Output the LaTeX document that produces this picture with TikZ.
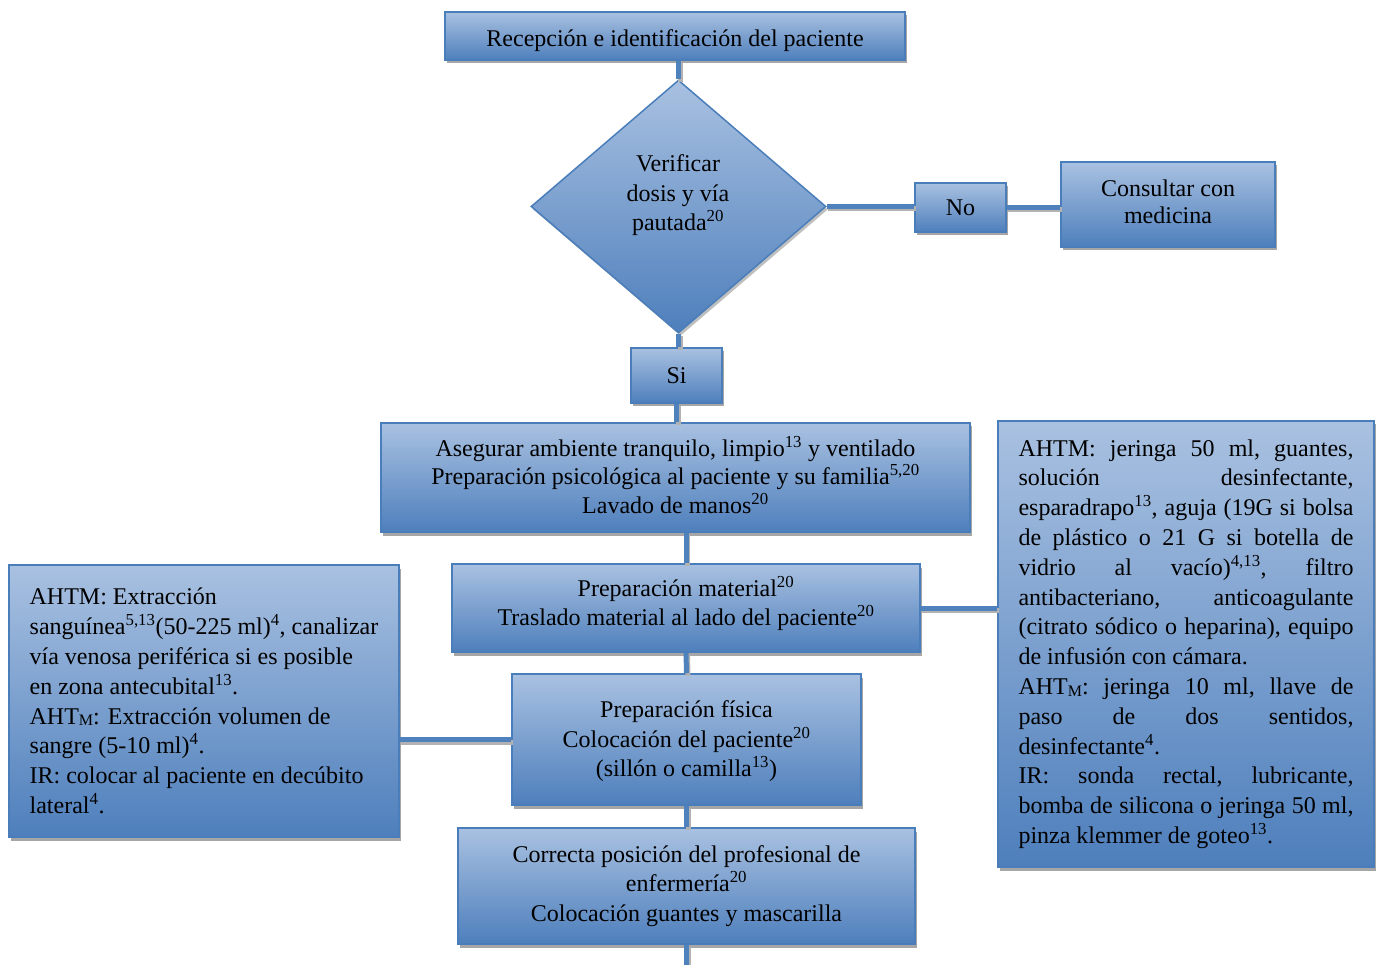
\documentclass[tikz,border=0pt]{standalone}
\usepackage{fontspec}
\setmainfont{Liberation Serif}
\usetikzlibrary{shapes.geometric,shadows}
\definecolor{btop}{HTML}{A9C1E1}
\definecolor{bbot}{HTML}{4E7FBC}
\definecolor{bdraw}{HTML}{4A7EBB}
\definecolor{lnc}{HTML}{4F81BD}
\newcommand{\Msb}{\raisebox{-0.08em}{\fontsize{16}{16}\selectfont M}}
\newcommand{\sps}[1]{\textsuperscript{#1}}
\newcommand{\jl}[1]{\hbox to 335pt{\frenchspacing\spaceskip=0.25em plus 1fil minus 0.1em\relax #1}}
\newcommand{\shiftt}[2]{\raisebox{#1}[\height][\depth]{\begin{tabular}{@{}c@{}}#2\end{tabular}}}
\tikzset{
  fnt/.style={font=\fontsize{24}{29.5}\selectfont},
  box/.style={rectangle, draw=bdraw, line width=1.5pt, top color=btop, bottom color=bbot,
    drop shadow={shadow xshift=2pt, shadow yshift=-3.5pt, fill=black!35, opacity=1},
    inner sep=0pt, align=center, fnt},
  dia/.style={diamond, draw=bdraw, line width=1.5pt, top color=btop, bottom color=bbot,
    drop shadow={shadow xshift=2pt, shadow yshift=-3pt, fill=black!25, opacity=1},
    inner sep=0pt, aspect=1.166, minimum width=295pt, minimum height=253pt},
  conn/.style={draw=lnc, line width=5pt,
    preaction={draw=black!30, line width=5pt, transform canvas={shift={(1.5pt,-2.5pt)}}}},
}
\begin{document}
\begin{tikzpicture}[x=1pt, y=-1pt]
\useasboundingbox (0,0) rectangle (1379,965);
\node[box, minimum width=460pt, minimum height=48pt] (n1) at (675,36) {\raisebox{-5pt}[\height][\depth]{Recepción e identificación del paciente}};
\node[dia] (dia) at (678.5,206.5) {};
\node[fnt, align=center] (diatext) at (678,195.5) {Verificar\\dosis y vía\\pautada\sps{20}};
\node[box, minimum width=91pt, minimum height=49pt] (no) at (960.5,207.5) {No};
\node[box, minimum width=214pt, minimum height=85pt, font=\fontsize{24}{27}\selectfont] (cons) at (1168,204.5) {\shiftt{0pt}{Consultar con\\medicina}};
\node[box, minimum width=91pt, minimum height=55pt] (si) at (676.5,375.5) {Si};
\node[box, minimum width=589pt, minimum height=109pt, font=\fontsize{24}{28}\selectfont] (b3) at (675.5,477.5)
  {\shiftt{-1.5pt}{Asegurar ambiente tranquilo, limpio\sps{13} y ventilado\\Preparación psicológica al paciente y su familia\sps{5,20}\\Lavado de manos\sps{20}}};
\node[box, minimum width=468pt, minimum height=88pt] (b4) at (686,608)
  {\shiftt{3pt}{Preparación material\sps{20}\\Traslado material al lado del paciente\sps{20}}};
\node[box, minimum width=349pt, minimum height=131pt] (b5) at (686.5,739.5)
  {\shiftt{-2pt}{Preparación física\\Colocación del paciente\sps{20}\\(sillón o camilla\sps{13})}};
\node[box, minimum width=457pt, minimum height=116pt] (b6) at (686.5,886)
  {Correcta posición del profesional de\\enfermería\sps{20}\\Colocación guantes y mascarilla};
\node[box, minimum width=376pt, minimum height=446pt, align=left, font=\fontsize{24}{29.8}\selectfont] (rt) at (1186,644)
  {\jl{AHTM: jeringa 50 ml, guantes,}\\
   \jl{solución desinfectante,}\\
   \jl{esparadrapo\sps{13}, aguja (19G si bolsa}\\
   \jl{de plástico o 21 G si botella de}\\
   \jl{vidrio al vacío)\sps{4,13}, filtro}\\
   \jl{antibacteriano, anticoagulante}\\
   \jl{(citrato sódico o heparina), equipo}\\
   de infusión con cámara.\\
   \jl{AHT\Msb: jeringa 10 ml, llave de}\\
   \jl{paso de dos sentidos,}\\
   desinfectante\sps{4}.\\
   \jl{IR: sonda rectal, lubricante,}\\
   \jl{bomba de silicona o jeringa 50 ml,}\\
   pinza klemmer de goteo\sps{13}.};
\node[box, minimum width=390pt, minimum height=272pt, align=left, font=\fontsize{24}{29.8}\selectfont] (lt) at (204,701)
  {AHTM: Extracción\\
   sanguínea\sps{5,13}(50-225 ml)\sps{4}, canalizar\\
   vía venosa periférica si es posible\\
   en zona antecubital\sps{13}.\\
   AHT\Msb: Extracción volumen de\\
   sangre (5-10 ml)\sps{4}.\\
   IR: colocar al paciente en decúbito\\
   lateral\sps{4}.};
\coordinate (end) at (686.5,965);
\draw[conn] (dia.north |- n1.south) -- (dia.north);
\draw[conn] (dia.east) -- (dia.east -| no.west);
\draw[conn] (no.east) -- (no.east -| cons.west);
\draw[conn] (dia.south) -- (dia.south |- si.north);
\draw[conn] (si.south) -- (si.south |- b3.north);
\draw[conn] (b4.north |- b3.south) -- (b4.north);
\draw[conn] (b4.east) -- (b4.east -| rt.west);
\draw[conn] (b4.south) -- (b5.north);
\draw[conn] (b5.west) -- (b5.west -| lt.east);
\draw[conn] (b5.south) -- (b6.north);
\draw[conn] (b6.south) -- (end);
\end{tikzpicture}
\end{document}
